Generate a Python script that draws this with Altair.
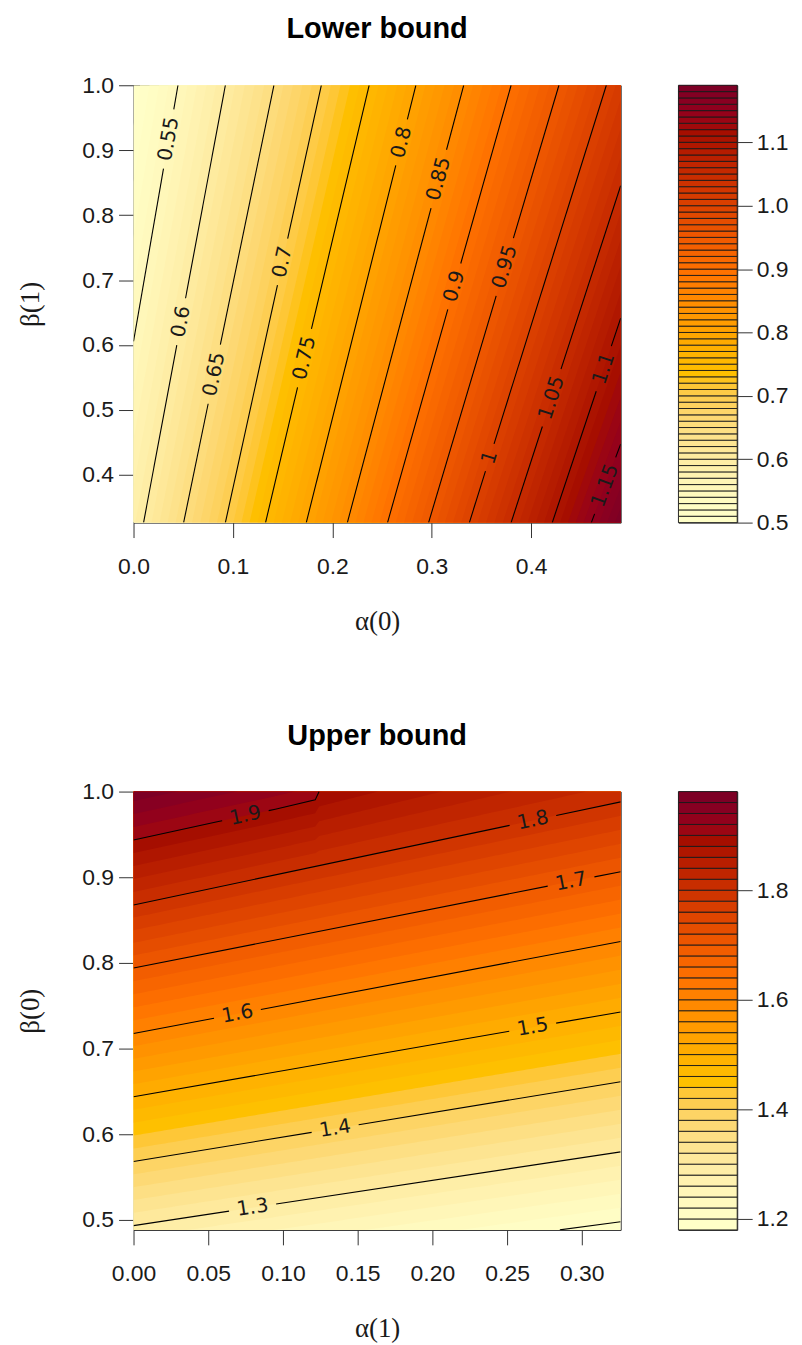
import math
import altair as alt
import pandas as pd

# ================= values =================
# ---- "Lower bound" panel ----
LB_XLIM = [0.0, 0.49]
LB_YLIM = [0.3265, 1.0]
LB_XTICKS = [0.0, 0.1, 0.2, 0.3, 0.4]
LB_YTICKS = [0.4, 0.5, 0.6, 0.7, 0.8, 0.9, 1.0]
LB_LEVELS = [0.55, 0.60, 0.65, 0.70, 0.75, 0.80, 0.85, 0.90, 0.95, 1.00, 1.05, 1.10, 1.15]
# upper end of every contour line (top or right edge)
LB_TOP_X = [0.0447, 0.0924, 0.1412, 0.1889, 0.2370, 0.2840, 0.3321, 0.3798, 0.4279, 0.4756, 0.49, 0.49, 0.49]
LB_TOP_Y = [1.0, 1.0, 1.0, 1.0, 1.0, 1.0, 1.0, 1.0, 1.0, 1.0, 0.8454, 0.6413, 0.4474]
# lower end of every contour line (bottom or left edge)
LB_BOT_X = [0.0, 0.0101, 0.0504, 0.0924, 0.1328, 0.1738, 0.2151, 0.2555, 0.2968, 0.3378, 0.3798, 0.4212, 0.4605]
LB_BOT_Y = [0.6056, 0.3265, 0.3265, 0.3265, 0.3265, 0.3265, 0.3265, 0.3265, 0.3265, 0.3265, 0.3265, 0.3265, 0.3265]
LB_LABEL_TEXT = ["0.55", "0.6", "0.65", "0.7", "0.75", "0.8", "0.85", "0.9", "0.95", "1", "1.05", "1.1", "1.15"]
LB_LABEL_X = [0.037, 0.047, 0.0824, 0.1496, 0.1714, 0.2706, 0.3076, 0.3237, 0.3731, 0.358, 0.4202, 0.4706, 0.474]
LB_LABEL_Y = [0.9168, 0.6362, 0.5546, 0.728, 0.580, 0.9117, 0.8556, 0.6898, 0.7204, 0.427, 0.5189, 0.5648, 0.3837]
LB_KEY_FROM, LB_KEY_TO, LB_KEY_STEP = 0.50, 1.19, 0.01
LB_KEY_TICKS = [0.5, 0.6, 0.7, 0.8, 0.9, 1.0, 1.1]

# ---- "Upper bound" panel ----
UB_XLIM = [0.0, 0.326]
UB_YLIM = [0.4884, 1.0]
UB_XTICKS = [0.0, 0.05, 0.10, 0.15, 0.20, 0.25, 0.30]
UB_YTICKS = [0.5, 0.6, 0.7, 0.8, 0.9, 1.0]
UB_LEVELS = [1.2, 1.3, 1.4, 1.5, 1.6, 1.7, 1.8, 1.9]
UB_LINE_X = [
    [0.2853, 0.326],
    [0.0, 0.326],
    [0.0, 0.326],
    [0.0, 0.326],
    [0.0, 0.326],
    [0.0, 0.326],
    [0.0, 0.326],
    [0.0, 0.056, 0.0949, 0.1216, 0.1242],
]
UB_LINE_Y = [
    [0.4884, 0.498],
    [0.4934, 0.5795],
    [0.5682, 0.6613],
    [0.6438, 0.7428],
    [0.7176, 0.825],
    [0.794, 0.9065],
    [0.8677, 0.988],
    [0.9434, 0.9647, 0.9794, 0.9903, 1.0],
]
UB_LABEL_TEXT = ["1.3", "1.4", "1.5", "1.6", "1.7", "1.8", "1.9"]
UB_LABEL_LEVEL = [1.3, 1.4, 1.5, 1.6, 1.7, 1.8, 1.9]
UB_LABEL_X = [0.0796, 0.1349, 0.2671, 0.0693, 0.2927, 0.2671, 0.0749]
UB_LABEL_Y = [0.5155, 0.607, 0.7253, 0.7428, 0.896, 0.9678, 0.9717]
UB_KEY_FROM, UB_KEY_TO, UB_KEY_STEP = 1.18, 1.98, 0.02
UB_KEY_TICKS = [1.2, 1.4, 1.6, 1.8]

# ================= style =================
PLOT_W = 489
LB_PLOT_H = 439
UB_PLOT_H = 440
KEY_W = 59
SANS = "Liberation Sans"
SERIF = "Liberation Serif"
LABEL_FONT = "DejaVu Sans"
LABEL_SIZE = 20
TICK_FONT = 23
TICK_LEN = 15


# hcl.colors(n, "YlOrRd", rev = TRUE), as used by R's filled.contour
def _hcl_hex(L, C, H):
    h = math.radians(H)
    U, V = C * math.cos(h), C * math.sin(h)
    XN, YN, ZN = 95.047, 100.0, 108.883
    Y = YN * (((L + 16) / 116) ** 3 if L > 7.999592 else L / 903.3)
    t = XN + YN + ZN
    x, y = XN / t, YN / t
    uN = 2 * x / (6 * y - x + 1.5)
    vN = 4.5 * y / (6 * y - x + 1.5)
    u = U / (13 * L) + uN
    v = V / (13 * L) + vN
    X = 9.0 * Y * u / (4 * v)
    Z = -X / 3 - 5 * Y + 3 * Y / v
    X, Y, Z = X / 100, Y / 100, Z / 100
    rgb = [3.240479 * X - 1.537150 * Y - 0.498535 * Z,
           -0.969256 * X + 1.875992 * Y + 0.041556 * Z,
           0.055648 * X - 0.204043 * Y + 1.057311 * Z]
    out = []
    for c in rgb:
        c = min(max(c, 0.0), 1.0)
        c = 1.055 * c ** (1 / 2.4) - 0.055 if c > 0.0031308 else 12.92 * c
        out.append(int(round(255 * min(max(c, 0.0), 1.0))))
    return "#%02X%02X%02X" % tuple(out)


def ylorrd(n):
    h1, h2, c1, c2, l1, l2, p1, p2, cmax = 5, 85, 75, 40, 25, 99, 1.6, 1.3, 180
    j = 1 / (1 + abs(cmax - c1) / abs(cmax - c2))
    cols = []
    for k in range(n):
        i = 1 - k / (n - 1)
        L = l2 - (l2 - l1) * i ** p2
        if i <= j:
            C = c2 - (c2 - cmax) * (i / j) ** p1
        else:
            C = cmax - (cmax - c1) * ((i - j) / (1 - j)) ** p1
        H = h2 - (h2 - h1) * i
        cols.append(_hcl_hex(L, C, H))
    return cols[::-1]


def breaks(a, b, step):
    n = int(round((b - a) / step))
    return [round(a + step * k, 4) for k in range(n + 1)]


def interp_level(levels, vals, v):
    n = len(levels)
    if v <= levels[0]:
        i = 0
    elif v >= levels[-1]:
        i = n - 2
    else:
        i = max(j for j in range(n - 1) if levels[j] <= v)
    a, b = levels[i], levels[i + 1]
    return vals[i] + (v - a) / (b - a) * (vals[i + 1] - vals[i])


def split_line(px, py, lx, ly, text, sx, sy):
    """Cut a gap for the label out of a polyline; return segments, label pos, angle."""
    P = [(x * sx, y * sy) for x, y in zip(px, py)]
    Lp = (lx * sx, ly * sy)
    seglen = [math.dist(P[j], P[j + 1]) for j in range(len(P) - 1)]
    cum = [0.0]
    for s in seglen:
        cum.append(cum[-1] + s)
    best = None
    for j in range(len(P) - 1):
        ax, ay = P[j]
        bx, by = P[j + 1]
        dx, dy = bx - ax, by - ay
        t = ((Lp[0] - ax) * dx + (Lp[1] - ay) * dy) / (dx * dx + dy * dy)
        t = min(max(t, 0.0), 1.0)
        q = (ax + t * dx, ay + t * dy)
        d = math.dist(q, Lp)
        if best is None or d < best[0]:
            best = (d, j, t, q)
    _, j, t, q = best
    s0 = cum[j] + t * seglen[j]
    dx, dy = P[j + 1][0] - P[j][0], P[j + 1][1] - P[j][1]
    ang = math.degrees(math.atan2(-dy, dx))
    if dx < 0:
        ang += 180
    ang %= 360
    tw = LABEL_SIZE * sum(0.318 if ch == "." else 0.636 for ch in text)
    g = tw / 2 + 8

    def at(s):
        for k in range(len(P) - 1):
            if s <= cum[k + 1] or k == len(P) - 2:
                f = (s - cum[k]) / seglen[k]
                return (P[k][0] + f * (P[k + 1][0] - P[k][0]), P[k][1] + f * (P[k + 1][1] - P[k][1]))

    seg_a = [p for k, p in enumerate(P) if cum[k] < s0 - g] + [at(s0 - g)]
    seg_b = [at(s0 + g)] + [p for k, p in enumerate(P) if cum[k] > s0 + g]
    segs = []
    for seg in (seg_a, seg_b):
        if len(seg) >= 2:
            segs.append([(a / sx, b / sy) for a, b in seg])
    return segs, (q[0] / sx, q[1] / sy), ang


def axis_x(ticks, fmt, title):
    return alt.Axis(values=ticks, format=fmt, title=title, tickSize=TICK_LEN, labelPadding=18,
                    titlePadding=30, domain=False, grid=False, labelFlush=False)


def axis_y(ticks, title):
    return alt.Axis(values=ticks, format=".1f", title=title, tickSize=TICK_LEN, labelPadding=5,
                    titlePadding=37, domain=False, grid=False, labelAngle=0, labelFlush=False)


def key_panel(key_breaks, colors, ticks, height):
    df = pd.DataFrame({"lo": key_breaks[:-1], "hi": key_breaks[1:], "col": colors,
                       "x0": [0] * len(colors), "x1": [1] * len(colors)})
    return alt.Chart(df).mark_rect(stroke="#1A1A1A", strokeWidth=0.9).encode(
        x=alt.X("x0:Q", scale=alt.Scale(domain=[0, 1], nice=False), axis=None),
        x2="x1:Q",
        y=alt.Y("lo:Q", scale=alt.Scale(domain=[key_breaks[0], key_breaks[-1]], nice=False, zero=False),
                axis=alt.Axis(orient="right", values=ticks, format=".1f", title=None, tickSize=TICK_LEN,
                              labelPadding=4, domain=False, grid=False, labelFlush=False)),
        y2="hi:Q",
        color=alt.Color("col:N", scale=None),
    ).properties(width=KEY_W, height=height)


def line_layers(line_pts, labels, xlim, ylim, xs, ys, xax, yax, height):
    sx = PLOT_W / (xlim[1] - xlim[0])
    sy = height / (ylim[1] - ylim[0])
    line_rows, label_rows = [], []
    seg_id = 0
    for li, (px, py) in enumerate(line_pts):
        lab = labels.get(li)
        if lab is None:
            segs = [list(zip(px, py))]
        else:
            segs, pos, ang = split_line(px, py, lab[1], lab[2], lab[0], sx, sy)
            label_rows.append({"x": pos[0], "y": pos[1], "text": lab[0], "ang": ang})
        for seg in segs:
            for k, (a, b) in enumerate(seg):
                line_rows.append({"seg": seg_id, "ord": k, "x": a, "y": b})
            seg_id += 1
    lines = alt.Chart(pd.DataFrame(line_rows)).mark_line(color="black", strokeWidth=1.1, clip=True).encode(
        x=alt.X("x:Q", scale=xs, axis=xax), y=alt.Y("y:Q", scale=ys, axis=yax),
        detail="seg:N", order="ord:Q")
    texts = alt.Chart(pd.DataFrame(label_rows)).mark_text(
        font=LABEL_FONT, fontSize=LABEL_SIZE, color="#1A1A1A", align="center", baseline="middle", clip=True
    ).encode(x=alt.X("x:Q", scale=xs, axis=xax), y=alt.Y("y:Q", scale=ys, axis=yax),
             text="text:N", angle=alt.Angle("ang:Q", scale=None))
    return lines, texts


# ================= Lower bound =================
lb_breaks = breaks(LB_KEY_FROM, LB_KEY_TO, LB_KEY_STEP)
lb_cols = ylorrd(len(lb_breaks) - 1)
lb_xs = alt.Scale(domain=LB_XLIM, nice=False, zero=False)
lb_ys = alt.Scale(domain=LB_YLIM, nice=False, zero=False)
lb_xax = axis_x(LB_XTICKS, ".1f", "α(0)")
lb_yax = axis_y(LB_YTICKS, "β(1)")


def lb_line_x(i, y):
    x1, y1, x2, y2 = LB_TOP_X[i], LB_TOP_Y[i], LB_BOT_X[i], LB_BOT_Y[i]
    return x2 + (x1 - x2) * (y - y2) / (y1 - y2)


n_rows = 140
lb_ysamp = [LB_YLIM[0] + (LB_YLIM[1] - LB_YLIM[0]) * k / n_rows for k in range(n_rows + 1)]
lb_fill = []
for k, v in enumerate(lb_breaks[:-1]):
    for y in lb_ysamp:
        xl = [lb_line_x(i, y) for i in range(len(LB_LEVELS))]
        xv = min(max(interp_level(LB_LEVELS, xl, v), LB_XLIM[0]), LB_XLIM[1])
        if k == 0:
            xv = LB_XLIM[0]
        lb_fill.append({"band": "b%03d" % k, "col": lb_cols[k], "y": y, "xa": xv, "xb": LB_XLIM[1]})

lb_fill_chart = alt.Chart(pd.DataFrame(lb_fill)).mark_area(orient="horizontal", clip=True).encode(
    y=alt.Y("y:Q", scale=lb_ys, axis=lb_yax),
    x=alt.X("xa:Q", scale=lb_xs, axis=lb_xax, stack=None),
    x2="xb:Q",
    color=alt.Color("col:N", scale=None),
    detail="band:N",
)
lb_lines_pts = [([LB_BOT_X[i], LB_TOP_X[i]], [LB_BOT_Y[i], LB_TOP_Y[i]]) for i in range(len(LB_LEVELS))]
lb_labels = {i: (LB_LABEL_TEXT[i], LB_LABEL_X[i], LB_LABEL_Y[i]) for i in range(len(LB_LEVELS))}
lb_l, lb_t = line_layers(lb_lines_pts, lb_labels, LB_XLIM, LB_YLIM, lb_xs, lb_ys, lb_xax, lb_yax, LB_PLOT_H)
lb_plot = alt.layer(lb_fill_chart, lb_l, lb_t).properties(
    width=PLOT_W, height=LB_PLOT_H, title=alt.TitleParams("Lower bound", offset=30))
lb_key = key_panel(lb_breaks, lb_cols, LB_KEY_TICKS, LB_PLOT_H)

# ================= Upper bound =================
ub_breaks = breaks(UB_KEY_FROM, UB_KEY_TO, UB_KEY_STEP)
ub_cols = ylorrd(len(ub_breaks) - 1)
ub_xs = alt.Scale(domain=UB_XLIM, nice=False, zero=False)
ub_ys = alt.Scale(domain=UB_YLIM, nice=False, zero=False)
ub_xax = axis_x(UB_XTICKS, ".2f", "α(1)")
ub_yax = axis_y(UB_YTICKS, "β(0)")


def ub_line_y(i, x):
    xs, ys = UB_LINE_X[i], UB_LINE_Y[i]
    slope = (ys[-1] - ys[0]) / (xs[-1] - xs[0])
    if x <= xs[0]:
        return ys[0] + slope * (x - xs[0])
    if x >= xs[-1]:
        return ys[-1] + slope * (x - xs[-1])
    for j in range(len(xs) - 1):
        if xs[j] <= x <= xs[j + 1]:
            return ys[j] + (ys[j + 1] - ys[j]) * (x - xs[j]) / (xs[j + 1] - xs[j])


ub_xsamp = sorted(set([UB_XLIM[0] + (UB_XLIM[1] - UB_XLIM[0]) * k / n_rows for k in range(n_rows + 1)]
                      + [x for xs in UB_LINE_X for x in xs]))
ub_fill = []
for k, v in enumerate(ub_breaks[:-1]):
    for x in ub_xsamp:
        yl = [ub_line_y(i, x) for i in range(len(UB_LEVELS))]
        yv = min(max(interp_level(UB_LEVELS, yl, v), UB_YLIM[0]), UB_YLIM[1])
        if k == 0:
            yv = UB_YLIM[0]
        ub_fill.append({"band": "b%03d" % k, "col": ub_cols[k], "x": x, "ya": yv, "yb": UB_YLIM[1]})

ub_fill_chart = alt.Chart(pd.DataFrame(ub_fill)).mark_area(orient="vertical", clip=True).encode(
    x=alt.X("x:Q", scale=ub_xs, axis=ub_xax),
    y=alt.Y("ya:Q", scale=ub_ys, axis=ub_yax, stack=None),
    y2="yb:Q",
    color=alt.Color("col:N", scale=None),
    detail="band:N",
)
ub_lines_pts = list(zip(UB_LINE_X, UB_LINE_Y))
ub_labels = {UB_LEVELS.index(lv): (UB_LABEL_TEXT[k], UB_LABEL_X[k], UB_LABEL_Y[k])
             for k, lv in enumerate(UB_LABEL_LEVEL)}
ub_l, ub_t = line_layers(ub_lines_pts, ub_labels, UB_XLIM, UB_YLIM, ub_xs, ub_ys, ub_xax, ub_yax, UB_PLOT_H)
ub_plot = alt.layer(ub_fill_chart, ub_l, ub_t).properties(
    width=PLOT_W, height=UB_PLOT_H, title=alt.TitleParams("Upper bound", offset=30))
ub_key = key_panel(ub_breaks, ub_cols, UB_KEY_TICKS, UB_PLOT_H)

row1 = alt.hconcat(lb_plot, lb_key, spacing=56)
row2 = alt.hconcat(ub_plot, ub_key, spacing=56)

chart = alt.vconcat(row1, row2, spacing=86).properties(
    padding={"left": 8, "top": 4, "right": 5, "bottom": 5}
).configure_view(stroke="#262626", strokeWidth=1).configure_axis(
    labelFont=SANS, labelFontSize=TICK_FONT, labelColor="#1A1A1A", tickColor="#333333", tickWidth=1,
    titleFont=SERIF, titleFontSize=27, titleFontWeight="normal", titleColor="#1A1A1A",
).configure_title(
    font=SANS, fontSize=29, fontWeight="bold", color="#000000", anchor="middle"
)

chart.save("out.html", embed_options={"renderer": "svg", "actions": False})
